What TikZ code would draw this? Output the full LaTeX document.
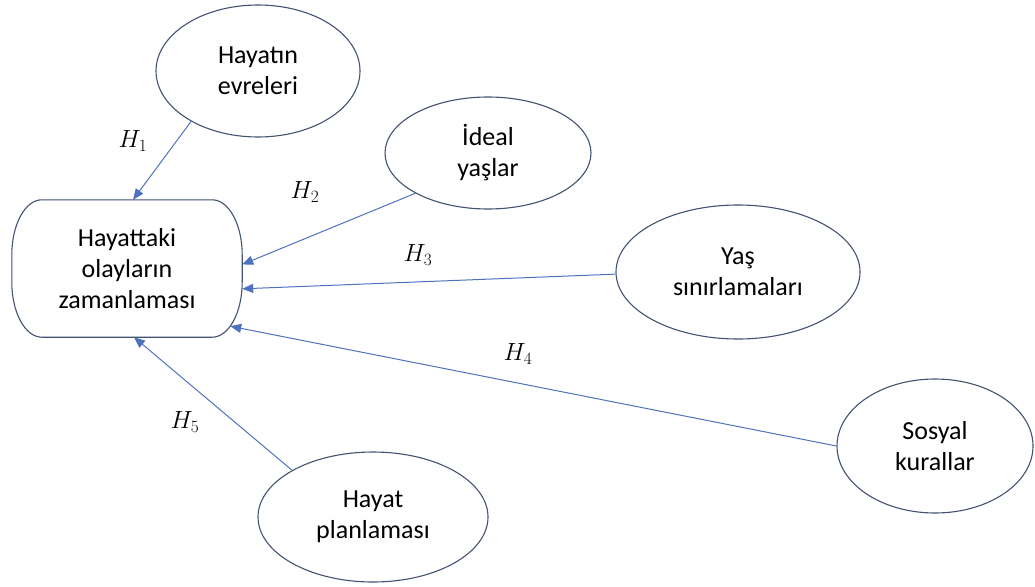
\documentclass[tikz,border=0pt]{standalone}
\usepackage{fontspec}
\setmainfont{Carlito}
\usetikzlibrary{arrows.meta}
\usetikzlibrary{shapes.geometric}
\definecolor{cizgi}{RGB}{66,82,112}
\definecolor{okmavi}{RGB}{79,114,190}

\begin{document}
\begin{tikzpicture}[x=1pt,y=-1pt,
		oval/.style={ellipse,draw=cizgi,line width=1.1pt,inner sep=0pt,align=center,font=\fontsize{26}{31}\selectfont},
		kutu/.style={rectangle,align=center,minimum width=230pt,minimum height=137pt,font=\fontsize{26}{31}\selectfont},
		kenar/.style={draw=cizgi,line width=1.1pt,line join=round},
		hip/.style={draw=okmavi,line width=1pt,-{Triangle[length=11pt,width=9pt]}},
		etiket/.style={font=\fontsize{26}{31}\selectfont}]
				\useasboundingbox (0,0) rectangle (1035,586);

				\node[kutu] (zaman) at (127,268.5) {Hayattaki\\olayların\\zamanlaması};
				% kutunun yuvarlak kenarlari
				\draw[kenar] ([xshift=30pt]zaman.north west) -- ([xshift=-30pt]zaman.north east)
					arc[start angle=90,end angle=0,x radius=30pt,y radius=55pt]
					-- ([yshift=55pt]zaman.south east)
					arc[start angle=0,end angle=-90,x radius=30pt,y radius=55pt]
					-- ([xshift=30pt]zaman.south west)
					arc[start angle=270,end angle=180,x radius=30pt,y radius=55pt]
					-- ([yshift=-55pt]zaman.north west)
					arc[start angle=180,end angle=90,x radius=30pt,y radius=55pt] -- cycle;

				\node[oval,minimum width=204pt,minimum height=132pt] (evre) at (258,71) {Hayatın\\evreleri};
				\node[oval,minimum width=206pt,minimum height=112pt] (ideal) at (488,153) {İdeal\\yaşlar};
				\node[oval,minimum width=244pt,minimum height=134pt] (sinir) at (738,272) {Yaş\\sınırlamaları};
				\node[oval,minimum width=196pt,minimum height=134pt] (kural) at (935,446) {Sosyal\\kurallar};
				\node[oval,minimum width=230pt,minimum height=130pt] (plan) at (373,517) {Hayat\\planlaması};

				% hipotezler
				\draw[hip] (evre.217) -- ([xshift=6pt]zaman.north);
				\draw[hip] (ideal.209) -- (zaman.2);
				\draw[hip] (sinir.181) -- (zaman.-10);
				\draw[hip] (kural.west) -- ([shift={(-12pt,11pt)}]zaman.south east);
				\draw[hip] (plan.150) -- ([xshift=7pt]zaman.south);

				\node[etiket] (h1) at (133,141) {$H_1$};
				\node[etiket] (h2) at (305,192) {$H_2$};
				\node[etiket] (h3) at (418,255) {$H_3$};
				\node[etiket] (h4) at (518,354) {$H_4$};
				\node[etiket] (h5) at (185,422) {$H_5$};
\end{tikzpicture}
\end{document}
